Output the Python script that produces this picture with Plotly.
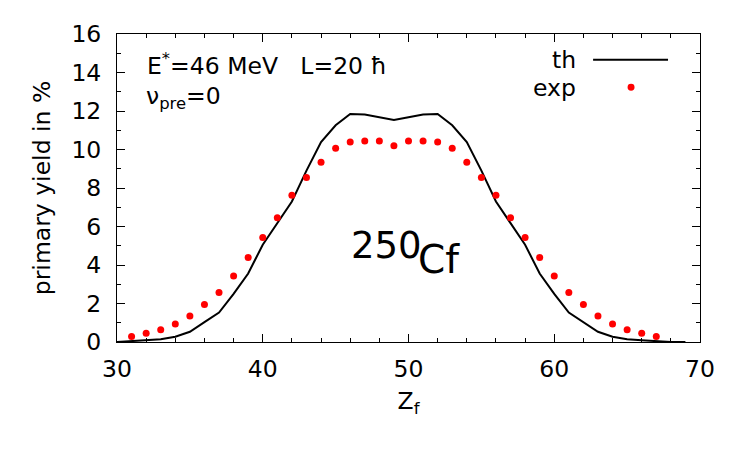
import plotly.graph_objects as go

# theory curve (primary yield, %)
z_th = list(range(30, 70))
y_th = [0.0, 0.05, 0.09, 0.14, 0.27, 0.53, 1.03, 1.53, 2.5, 3.56,
        5.05, 6.19, 7.3, 8.9, 10.39, 11.26, 11.84, 11.82, 11.67, 11.53,
        11.67, 11.82, 11.84, 11.26, 10.39, 8.9, 7.3, 6.19, 5.05, 3.56,
        2.5, 1.53, 1.03, 0.53, 0.27, 0.14, 0.09, 0.05, 0.0, 0.0]

# experimental points
z_exp = list(range(31, 68))
y_exp = [0.29, 0.46, 0.64, 0.94, 1.35, 1.95, 2.57, 3.43, 4.39, 5.43,
         6.46, 7.62, 8.55, 9.34, 10.06, 10.39, 10.44, 10.44, 10.2, 10.44,
         10.44, 10.39, 10.06, 9.34, 8.55, 7.62, 6.46, 5.43, 4.39, 3.43,
         2.57, 1.95, 1.35, 0.94, 0.64, 0.46, 0.29]

FONT = "DejaVu Sans"
FS = 23.5

# page puts the figure 8px in from the corner; plot box spans 116.5..700 x 30..342
L, T, W, H = 108.5, 22, 583.5, 312


def px(x):
    return (x - 8 - L) / W


def py(y):
    return (T + H - (y - 8)) / H


fig = go.Figure()
fig.add_trace(go.Scatter(x=z_th, y=y_th, mode="lines",
                         line=dict(color="black", width=2), name="th", showlegend=False))
fig.add_trace(go.Scatter(x=z_exp, y=y_exp, mode="markers",
                         marker=dict(color="#ff0000", size=7), name="exp", showlegend=False))

axis_common = dict(
    showgrid=False, zeroline=False, showline=True, linecolor="black", linewidth=1,
    mirror="ticks", ticks="inside", ticklen=8, tickcolor="black", tickwidth=1,
    tickfont=dict(family=FONT, size=FS, color="black"),
)
fig.update_xaxes(range=[30, 70], dtick=10, tick0=30, ticklabelstandoff=6,
                 minor=dict(dtick=2, ticks="inside", ticklen=4, tickcolor="black"),
                 title=dict(text="Z<sub>f</sub>", font=dict(family=FONT, size=FS, color="black"), standoff=10),
                 **axis_common)
fig.update_yaxes(range=[0, 16], dtick=2, ticklabelstandoff=10,
                 minor=dict(dtick=1, ticks="inside", ticklen=4, tickcolor="black"),
                 title=dict(text="primary yield in %", font=dict(family=FONT, size=FS, color="black"), standoff=14),
                 **axis_common)

ann_font = dict(family=FONT, size=FS, color="black")
fig.add_annotation(x=px(145), y=py(61), xref="paper", yref="paper", xanchor="left", yanchor="middle",
                   text="E<sup>*</sup>=46 MeV\u00a0\u00a0\u00a0L=20 ħ", showarrow=False, font=ann_font)
fig.add_annotation(x=px(144), y=py(94), xref="paper", yref="paper", xanchor="left", yanchor="middle",
                   text="ν<sub>pre</sub>=0", showarrow=False, font=ann_font)

# legend
fig.add_annotation(x=px(578), y=py(56), xref="paper", yref="paper",
                   xanchor="right", yanchor="middle", text="th", showarrow=False, font=ann_font)
fig.add_annotation(x=px(578), y=py(85), xref="paper", yref="paper",
                   xanchor="right", yanchor="middle", text="exp", showarrow=False, font=ann_font)
fig.add_shape(type="line", xref="paper", yref="paper",
              x0=px(593), x1=px(668), y0=py(56), y1=py(56), line=dict(color="black", width=2))
fig.add_shape(type="circle", xref="paper", yref="paper",
              x0=px(627.5), x1=px(634.5), y0=py(87.5), y1=py(80.5),
              fillcolor="#ff0000", line=dict(width=0))

# nucleus label
fig.add_annotation(x=px(386), y=py(244), xref="paper", yref="paper",
                   xanchor="center", yanchor="middle", text="250", showarrow=False,
                   font=dict(family=FONT, size=37, color="black"))
fig.add_annotation(x=px(439), y=py(258), xref="paper", yref="paper",
                   xanchor="center", yanchor="middle", text="Cf", showarrow=False,
                   font=dict(family=FONT, size=39, color="black"))

fig.update_layout(
    width=739, height=441,
    margin=dict(l=L, r=739 - L - W, t=T, b=441 - T - H),
    plot_bgcolor="white", paper_bgcolor="white",
    showlegend=False,
)
fig.write_html("out.html")
